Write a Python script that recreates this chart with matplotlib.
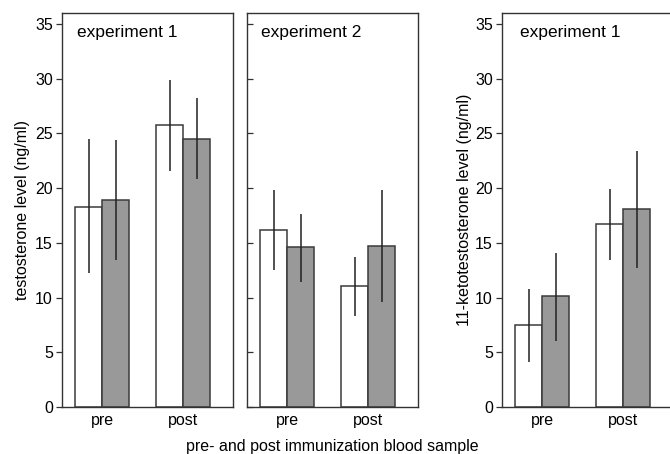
import matplotlib
matplotlib.use("Agg")
import matplotlib.pyplot as plt
import numpy as np

plt.rcParams['font.family'] = ['Liberation Sans', 'DejaVu Sans']

groups = ["pre", "post"]

# experiment 1, testosterone
t1_white = [18.3, 25.8]
t1_white_lo = [12.2, 21.6]
t1_white_hi = [24.5, 29.9]
t1_grey = [18.9, 24.5]
t1_grey_lo = [13.4, 20.8]
t1_grey_hi = [24.4, 28.2]

# experiment 2, testosterone
t2_white = [16.2, 11.1]
t2_white_lo = [12.5, 8.3]
t2_white_hi = [19.8, 13.7]
t2_grey = [14.6, 14.75]
t2_grey_lo = [11.45, 9.6]
t2_grey_hi = [17.6, 19.8]

# experiment 1, 11-ketotestosterone
k1_white = [7.5, 16.7]
k1_white_lo = [4.1, 13.4]
k1_white_hi = [10.8, 19.9]
k1_grey = [10.1, 18.1]
k1_grey_lo = [6.0, 12.7]
k1_grey_hi = [14.1, 23.4]

edge = "#3a3a3a"
grey_fill = "#999999"
fs = 11.5


def panel(ax, white, wlo, whi, grey, glo, ghi, title):
    x = np.arange(1, len(groups) + 1)
    w = 1 / 3
    ax.bar(x - w / 2, white, w, color="white", edgecolor=edge, linewidth=1.1, zorder=2)
    ax.bar(x + w / 2, grey, w, color=grey_fill, edgecolor=edge, linewidth=1.1, zorder=2)
    ax.vlines(x - w / 2, wlo, whi, color="#222222", linewidth=1.1, zorder=3)
    ax.vlines(x + w / 2, glo, ghi, color="#222222", linewidth=1.1, zorder=3)
    ax.set_xlim(0.506, 2.617)
    ax.set_ylim(0, 36)
    ax.set_xticks(x)
    ax.set_xticklabels(groups, fontsize=fs)
    ax.tick_params(axis="x", length=0, pad=4)
    ax.set_yticks(np.arange(0, 36, 5))
    ax.tick_params(axis="y", labelsize=fs, length=4.5, width=0.9, color="#333333", pad=2)
    for s in ax.spines.values():
        s.set_color("#333333")
        s.set_linewidth(1.0)
    ax.text(0.088, 0.939, title, transform=ax.transAxes, fontsize=12.5, va="baseline")


fig = plt.figure(figsize=(6.7, 4.54), dpi=100)
bottom = 1 - 407 / 454
height = 394 / 454
ax1 = fig.add_axes([62 / 670, bottom, 171 / 670, height])
ax2 = fig.add_axes([247 / 670, bottom, 171 / 670, height])
ax3 = fig.add_axes([502 / 670, bottom, 171 / 670, height])

panel(ax1, t1_white, t1_white_lo, t1_white_hi, t1_grey, t1_grey_lo, t1_grey_hi, "experiment 1")
panel(ax2, t2_white, t2_white_lo, t2_white_hi, t2_grey, t2_grey_lo, t2_grey_hi, "experiment 2")
panel(ax3, k1_white, k1_white_lo, k1_white_hi, k1_grey, k1_grey_lo, k1_grey_hi, "experiment 1")

ax2.texts[0].set_x(0.08)
ax3.texts[0].set_x(0.105)
ax2.tick_params(axis="y", direction="in", labelleft=False)

ax1.set_ylabel("testosterone level (ng/ml)", fontsize=fs)
ax1.yaxis.set_label_coords(-0.187, 0.5)
ax3.set_ylabel("11-ketotestosterone level (ng/ml)", fontsize=fs)
ax3.yaxis.set_label_coords(-0.175, 0.5)

fig.text(0.496, 0.016, "pre- and post immunization blood sample", ha="center", va="center", fontsize=fs)

fig.savefig("out.png", dpi=100)
